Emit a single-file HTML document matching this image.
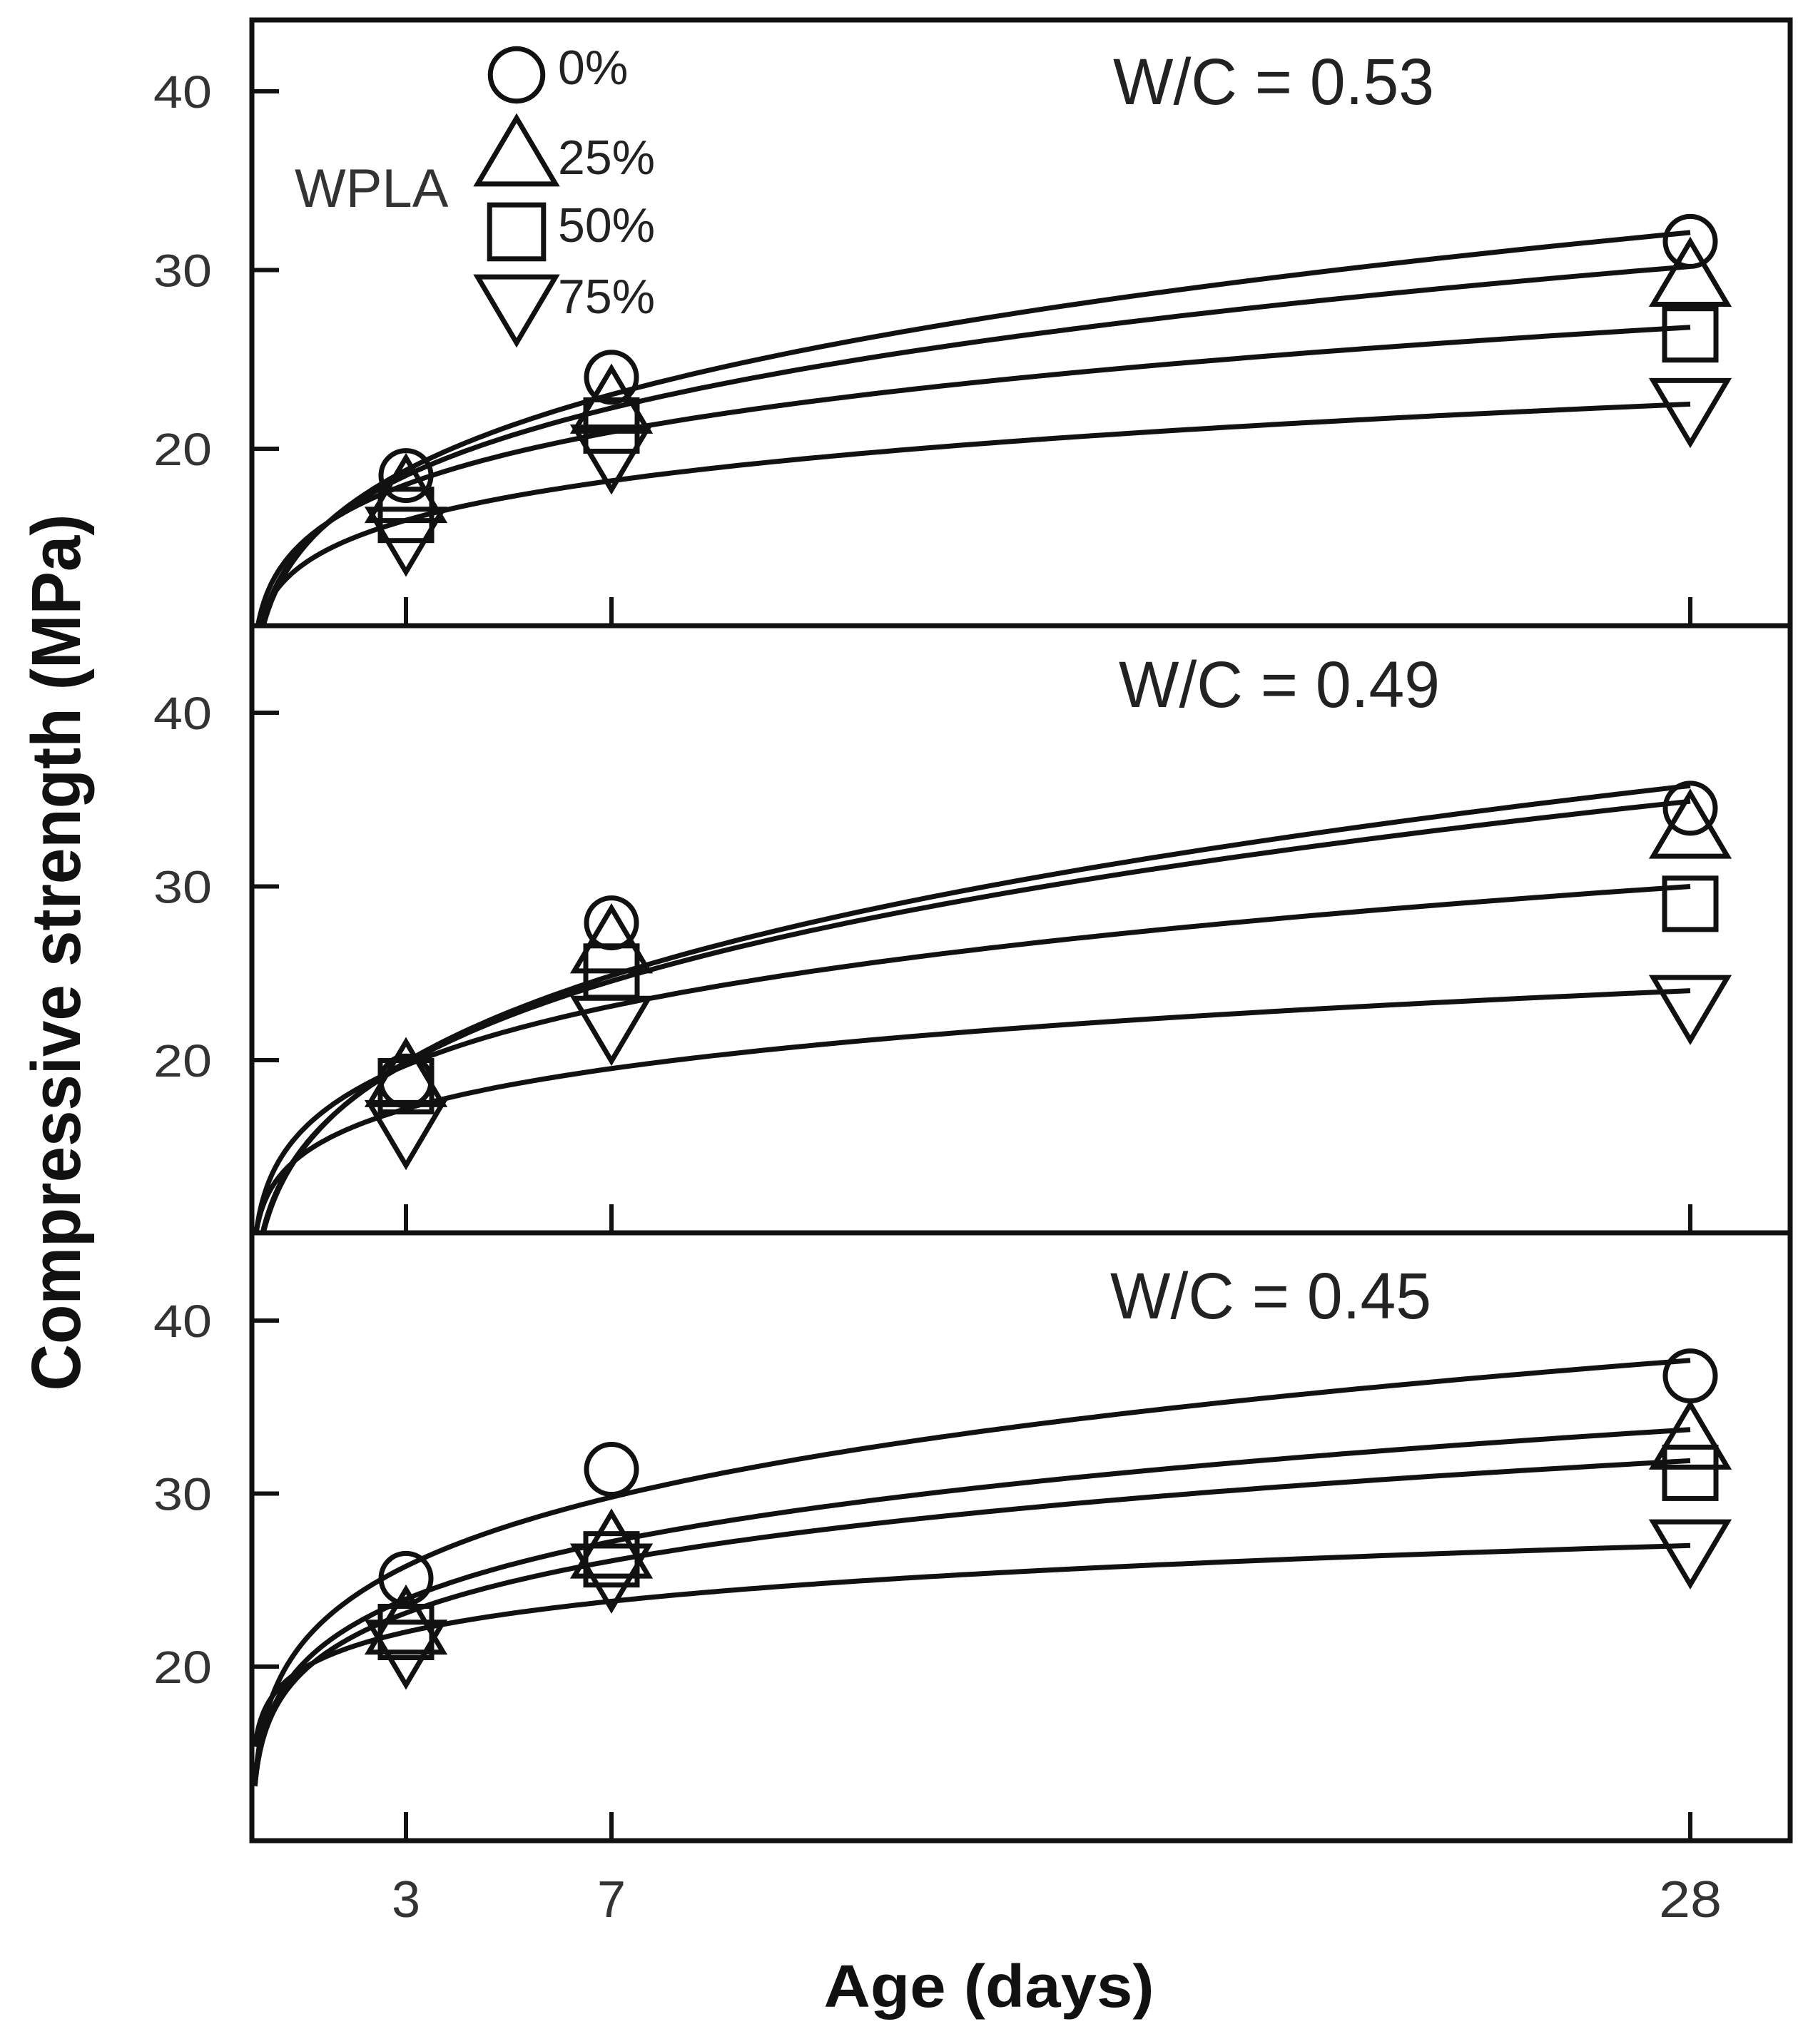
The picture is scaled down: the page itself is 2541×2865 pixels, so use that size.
<!DOCTYPE html>
<html><head><meta charset="utf-8"><style>
html,body{margin:0;padding:0;background:#fff;}
svg{display:block;font-family:"Liberation Sans",Arial,sans-serif;}
</style></head><body>
<svg id="chart" width="2541" height="2865" viewBox="0 0 2541 2865" xmlns="http://www.w3.org/2000/svg">
<rect x="0" y="0" width="2541" height="2865" fill="#fff"/>
<g id="plots"></g>
<text transform="translate(112,1335) rotate(-90)" text-anchor="middle" font-weight="bold" font-size="97" textLength="1229" lengthAdjust="spacingAndGlyphs" fill="#111">Compressive strength (MPa)</text>
<text x="1386" y="2813" text-anchor="middle" font-weight="bold" font-size="84" textLength="463" lengthAdjust="spacingAndGlyphs" fill="#111">Age (days)</text>
</svg>
<script>
// ---- data ----
const ages = [3, 7, 28];
const seriesLabels = ["0%", "25%", "50%", "75%"];
const panelTitles = ["W/C = 0.53", "W/C = 0.49", "W/C = 0.45"];
const yTicks = [20, 30, 40];
const xTickLabels = ["3", "7", "28"];
// measured points [panel][series][age]
const pointsP1 = [[18.5, 24.0, 31.6], [17.5, 22.5, 29.6], [16.3, 21.3, 26.4], [15.1, 19.7, 22.3]];
const pointsP2 = [[18.8, 27.9, 34.5], [19.0, 26.7, 33.3], [18.5, 25.1, 29.0], [16.0, 22.0, 23.2]];
const pointsP3 = [[25.1, 31.4, 36.8], [22.4, 26.8, 33.1], [22.0, 26.2, 31.2], [21.0, 25.4, 26.8]];
// fitted curve values at day 3 and day 28 [series]
const fit3P1 = [18.8, 18.5, 18.0, 16.0];
const fit28P1 = [32.1, 30.2, 26.8, 22.5];
const fit3P2 = [19.9, 19.8, 19.7, 17.2];
const fit28P2 = [35.8, 34.9, 30.0, 24.0];
const fit3P3 = [25.8, 23.9, 23.1, 22.0];
const fit28P3 = [37.7, 33.7, 31.9, 27.0];

// ---- layout ----
const NS = "http://www.w3.org/2000/svg";
const X0 = 353, XR = 2509, PXDAY = 72.0;
const panels = [
  {top: 28, bottom: 877, y40: 128, y20: 629, t0: 0.005, pts: pointsP1, f3: fit3P1, f28: fit28P1, titleX: 1560, titleY: 146},
  {top: 877, bottom: 1728, y40: 999, y20: 1486, t0: 0.005, pts: pointsP2, f3: fit3P2, f28: fit28P2, titleX: 1568, titleY: 991},
  {top: 1728, bottom: 2580, y40: 1851, y20: 2336, t0: 0.06, pts: pointsP3, f3: fit3P3, f28: fit28P3, titleX: 1556, titleY: 1848}
];
function xScale(d){ return X0 + d * PXDAY; }
function mk(tag, attrs, parent){ const e = document.createElementNS(NS, tag); for (const k in attrs) e.setAttribute(k, attrs[k]); parent.appendChild(e); return e; }
const root = document.getElementById('plots');

const frame = mk('rect', {x: X0, y: 28, width: XR - X0, height: 2580 - 28, fill: 'none', stroke: '#111', 'stroke-width': 7}, root);



function marker(g, type, cx, cy, s){
  let e;
  if (type === 0) e = mk('circle', {cx: cx, cy: cy, r: 35*s}, g);
  else if (type === 1) e = mk('polygon', {points: `${cx},${cy-50*s} ${cx+52*s},${cy+38*s} ${cx-52*s},${cy+38*s}`}, g);
  else if (type === 2) e = mk('rect', {x: cx-36*s, y: cy-36*s, width: 72*s, height: 72*s}, g);
  else e = mk('polygon', {points: `${cx-52*s},${cy-38*s} ${cx+52*s},${cy-38*s} ${cx},${cy+50*s}`}, g);
  e.setAttribute('fill', 'none'); e.setAttribute('stroke', '#111'); e.setAttribute('stroke-width', 7);
  return e;
}

panels.forEach((p, pi) => {
  const g = mk('g', {}, root);
  
  
  const yS = v => p.y20 + (20 - v) * (p.y20 - p.y40) / 20;
  const clipId = 'clip' + pi;
  const cp = mk('clipPath', {id: clipId}, g);
  mk('rect', {x: X0, y: p.top, width: XR - X0, height: p.bottom - p.top}, cp);
  if (pi > 0) {
    const dl = mk('line', {x1: X0, y1: p.top, x2: XR, y2: p.top, stroke: '#111', 'stroke-width': 7}, g);
    
    
  }
  yTicks.forEach(v => {
    const y = yS(v);
    const t = mk('line', {x1: X0, y1: y, x2: X0 + 38, y2: y, stroke: '#111', 'stroke-width': 6}, g);
    
    
    const tl = mk('text', {x: 297, y: y + 23, 'text-anchor': 'end', 'font-size': 64, fill: '#333', textLength: 82, lengthAdjust: 'spacingAndGlyphs'}, g);
    tl.textContent = String(v);
    
    
  });
  ages.forEach(d => {
    const x = xScale(d);
    const t = mk('line', {x1: x, y1: p.bottom, x2: x, y2: p.bottom - 40, stroke: '#111', 'stroke-width': 6}, g);
    
    
  });
  const tt = mk('text', {x: p.titleX, y: p.titleY, 'font-size': 92, fill: '#222', textLength: 450, lengthAdjust: 'spacingAndGlyphs'}, g);
  tt.textContent = panelTitles[pi];
  
  
  const cg = mk('g', {'clip-path': `url(#${clipId})`}, g);
  p.f3.forEach((a3, si) => {
    const b = Math.log(p.f28[si] / a3) / Math.log(28 / 3);
    let dstr = '';
    for (let i = 0; i <= 400; i++) {
      const t = p.t0 * Math.pow(28 / p.t0, i / 400);
      const v = a3 * Math.pow(t / 3, b);
      dstr += (i ? 'L' : 'M') + xScale(t).toFixed(1) + ',' + yS(v).toFixed(1);
    }
    const path = mk('path', {d: dstr, fill: 'none', stroke: '#111', 'stroke-width': 7}, cg);
    
    
  });
  p.pts.forEach((row, si) => {
    row.forEach((v, ai) => {
      const m = marker(g, si, xScale(ages[ai]), yS(v), 1);
      
      
    });
  });
});

ages.forEach((d, i) => {
  const t = mk('text', {x: xScale(d), y: 2687, 'text-anchor': 'middle', 'font-size': 72, fill: '#333'}, root);
  if (xTickLabels[i].length > 1) { t.setAttribute('textLength', 88); t.setAttribute('lengthAdjust', 'spacingAndGlyphs'); }
  t.textContent = xTickLabels[i];
  
  
});

const lg = mk('g', {}, root);


const wl = mk('text', {x: 413, y: 290, 'font-size': 76, fill: '#333'}, lg);
wl.textContent = 'WPLA';


const legY = [105, 218, 325, 428];
const legTY = [118, 244, 339, 439];
seriesLabels.forEach((lab, i) => {
  const m = marker(lg, i, 724, legY[i], 1.05);
  
  
  const t = mk('text', {x: 782, y: legTY[i], 'font-size': 68, fill: '#222'}, lg);
  t.textContent = lab;
  
  
});
</script>
</body></html>
